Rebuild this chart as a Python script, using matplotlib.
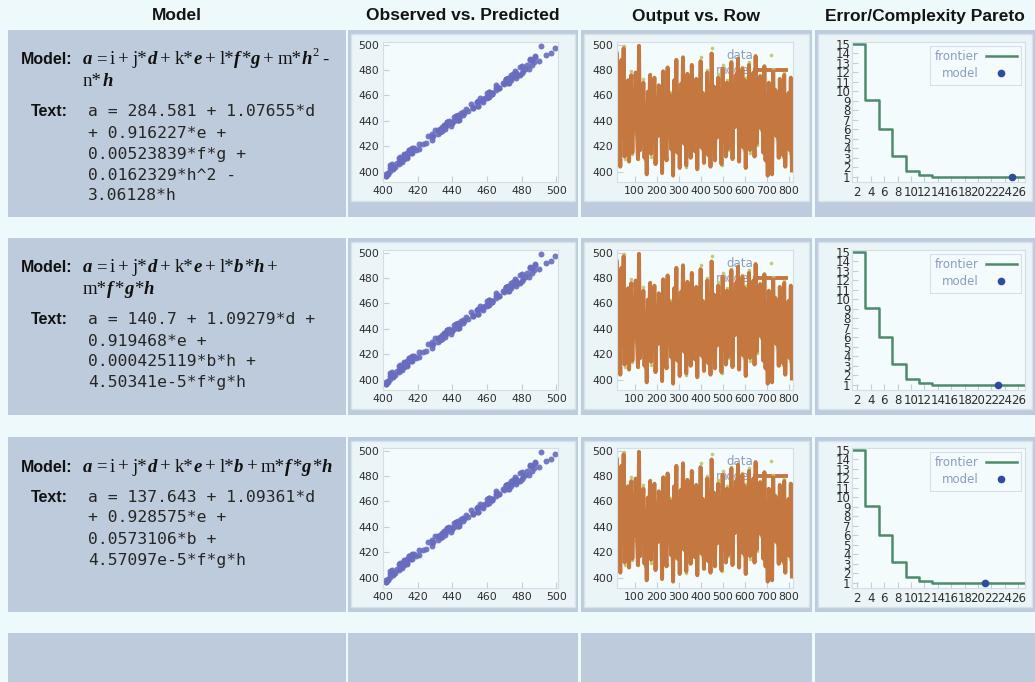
import matplotlib
matplotlib.use('Agg')
import matplotlib.pyplot as plt
from matplotlib.patches import Rectangle

# column headers
headers = ['Model', 'Observed vs. Predicted', 'Output vs. Row', 'Error/Complexity Pareto']

# symbolic model of each row, split into display lines of (text, style) pieces
model_lines = [
    [[('a', 'bi'), ('=', 'r'), ('i', 'r'), ('+', 'r'), ('j*', 'r'), ('d', 'bi'), ('+', 'r'),
      ('k*', 'r'), ('e', 'bi'), ('+', 'r'), ('l*', 'r'), ('f', 'bi'), ('*', 'r'), ('g', 'bi'),
      ('+', 'r'), ('m*', 'r'), ('h', 'bi'), ('2', 'sup'), ('-', 'r')],
     [('n*', 'r'), ('h', 'bi')]],
    [[('a', 'bi'), ('=', 'r'), ('i', 'r'), ('+', 'r'), ('j*', 'r'), ('d', 'bi'), ('+', 'r'),
      ('k*', 'r'), ('e', 'bi'), ('+', 'r'), ('l*', 'r'), ('b', 'bi'), ('*', 'r'), ('h', 'bi'),
      ('+', 'r')],
     [('m*', 'r'), ('f', 'bi'), ('*', 'r'), ('g', 'bi'), ('*', 'r'), ('h', 'bi')]],
    [[('a', 'bi'), ('=', 'r'), ('i', 'r'), ('+', 'r'), ('j*', 'r'), ('d', 'bi'), ('+', 'r'),
      ('k*', 'r'), ('e', 'bi'), ('+', 'r'), ('l*', 'r'), ('b', 'bi'), ('+', 'r'), ('m*', 'r'),
      ('f', 'bi'), ('*', 'r'), ('g', 'bi'), ('*', 'r'), ('h', 'bi')]],
]

text_lines = [
    ['a = 284.581 + 1.07655*d', '+ 0.916227*e +', '0.00523839*f*g +', '0.0162329*h^2 -', '3.06128*h'],
    ['a = 140.7 + 1.09279*d +', '0.919468*e +', '0.000425119*b*h +', '4.50341e-5*f*g*h'],
    ['a = 137.643 + 1.09361*d', '+ 0.928575*e +', '0.0573106*b +', '4.57097e-5*f*g*h'],
]

# model output (predicted) and data (observed), in row order
predicted = [
    492, 418, 455, 404, 488, 437, 497, 412, 466, 441,
    472, 408, 449, 476, 415, 462, 433, 478, 436, 410,
    499, 417, 458, 439, 470, 411, 446, 398, 463, 432,
    476, 414, 452, 443, 474, 406, 444, 428, 468, 438,
    457, 399, 479, 423, 439, 409, 482, 435, 461, 418,
    450, 397, 472, 441, 488, 415, 455, 403, 469, 437,
    490, 422, 448, 405, 477, 445, 466, 411, 484, 434,
    459, 416, 473, 402, 451, 440, 487, 419, 462, 407,
    445, 430, 478, 413, 456, 404, 493, 442, 467, 409,
    453, 427, 474, 436, 441, 406, 481, 433, 458, 412,
    470, 418, 447, 425, 486, 410, 463, 435, 476, 443,
    489, 408, 455, 438, 481, 419, 472, 403, 466, 431,
    484, 417, 459, 444, 478, 412, 491, 422, 452, 439,
    475, 434, 461, 415, 483, 409, 446, 397, 470, 442,
    456, 398, 479, 437, 464, 428, 450, 411, 473, 440,
    458, 413, 476, 404, 444, 430, 462, 417, 474, 401,
]
observed = [
    494, 417, 458, 406, 486, 437, 499, 410, 467, 443,
    471, 411, 448, 479, 414, 463, 430, 477, 439, 410,
    491, 419, 456, 440, 473, 409, 447, 403, 461, 434,
    477, 412, 455, 441, 474, 409, 442, 429, 465, 439,
    458, 403, 476, 425, 437, 410, 479, 434, 463, 421,
    452, 402, 471, 444, 485, 416, 454, 406, 470, 436,
    488, 423, 449, 404, 475, 443, 467, 414, 483, 436,
    461, 416, 471, 406, 452, 438, 490, 418, 460, 408,
    446, 428, 480, 414, 455, 407, 497, 444, 466, 411,
    451, 428, 477, 435, 443, 405, 484, 432, 459, 414,
    472, 417, 446, 428, 487, 412, 461, 436, 474, 444,
    485, 410, 454, 440, 482, 417, 474, 404, 465, 433,
    486, 415, 460, 442, 476, 413, 488, 421, 455, 437,
    476, 433, 463, 417, 480, 411, 445, 402, 469, 443,
    457, 402, 481, 435, 465, 426, 452, 412, 471, 441,
    460, 412, 478, 405, 443, 432, 463, 415, 472, 404,
]
rows = list(range(20, 20 + 5 * len(predicted), 5))

# pareto frontier (complexity vs error) and the chosen model per row
frontier_x = [1.2, 3.2, 5.2, 7.2, 9.2, 11.2, 13.2, 27.0]
frontier_y = [15.0, 9.1, 6.0, 3.2, 1.6, 1.2, 1.0, 1.0]
model_x = [25, 23, 21]
model_y = [1.0, 1.0, 1.0]

W, H = 1035, 682
PANEL = '#bdcbdc'
CARD = '#ebf5f8'
AXBG = '#f3fbfd'

fig = plt.figure(figsize=(W / 100, H / 100), dpi=100)
fig.patch.set_facecolor('#eef9fb')
bg = fig.add_axes([0, 0, 1, 1])
bg.set_xlim(0, W)
bg.set_ylim(H, 0)
bg.axis('off')

col_x = [(8, 346), (348, 578), (581, 812), (815, 1035)]
card_x = [None, (351, 575), (584, 809), (818, 1032)]
ax_x = [None, (383, 558), (617, 793), (852, 1025)]
panel_y = [(30, 217), (238, 415), (437, 612), (633, 700)]
ax_top = [42, 250, 448]
AX_H = 140

for x0, x1 in col_x:
    for y0, y1 in panel_y:
        bg.add_patch(Rectangle((x0, y0), x1 - x0, y1 - y0, facecolor=PANEL, edgecolor='none'))

for (x0, x1), title in zip(col_x, headers):
    bg.text((x0 + x1) / 2, 16, title, ha='center', va='center', fontsize=12.5,
            fontweight='bold', family='Liberation Sans', color='#141414')

styles = {
    'bi': dict(fontweight='bold', fontstyle='italic', fontsize=13.5),
    'r': dict(fontweight='normal', fontstyle='normal', fontsize=13.5),
    'sup': dict(fontweight='normal', fontstyle='normal', fontsize=9),
}
ops = ('=', '+', '-')
SUP_RAISE = 6.5


def draw_pieces(x, y, pieces):
    first_text, first_style = pieces[0]
    prev = bg.text(x, y, first_text, ha='left', va='center', family='Liberation Serif',
                   color='#111111', **styles[first_style])
    prev_text, prev_style = first_text, first_style
    for txt, st in pieces[1:]:
        gap = 2.4 if (txt in ops or prev_text in ops) else 0.3
        dy = 0
        if st == 'sup':
            dy = SUP_RAISE
        elif prev_style == 'sup':
            dy = -SUP_RAISE
        prev = bg.annotate(txt, xy=(1, 0), xycoords=prev, xytext=(gap, dy),
                           textcoords='offset points', ha='left', va='bottom',
                           family='Liberation Serif', color='#111111', **styles[st])
        prev_text, prev_style = txt, st


model_y0 = [60, 268, 467]
for r in range(3):
    y = model_y0[r]
    bg.text(73, y, 'Model:', ha='right', va='center', fontsize=11.5, fontweight='bold',
            family='Liberation Sans', color='#111111')
    for i, line in enumerate(model_lines[r]):
        draw_pieces(83, y + 22 * i, line)
    ty = y + 22 * len(model_lines[r]) + 8
    bg.text(68, ty, 'Text:', ha='right', va='center', fontsize=11.5, fontweight='bold',
            family='Liberation Sans', color='#111111')
    for i, line in enumerate(text_lines[r]):
        bg.text(88, ty + 21 * i, line, ha='left', va='center', fontsize=11.8,
                family='DejaVu Sans Mono', color='#262626')


def make_axes(col, r):
    top = ax_top[r]
    cx0, cx1 = card_x[col]
    bg.add_patch(Rectangle((cx0, panel_y[r][0] + 4), cx1 - cx0, top + AX_H + 19 - panel_y[r][0] - 4,
                           facecolor=CARD, edgecolor='#d6e2ea', lw=1))
    x0, x1 = ax_x[col]
    ax = fig.add_axes([x0 / W, 1 - (top + AX_H) / H, (x1 - x0) / W, AX_H / H])
    ax.set_facecolor(AXBG)
    for s in ax.spines.values():
        s.set_color('#d3dee6')
        s.set_linewidth(0.8)
    ax.tick_params(labelsize=7.8, labelcolor='#2c2c2c', color='#c3ced7', direction='in',
                   length=4, width=0.8, pad=3)
    return ax


for r in range(3):
    # observed vs predicted
    ax = make_axes(1, r)
    ax.plot(observed, predicted, 'o', ms=4.3, color='#676cbf', mec='none', alpha=0.9)
    ax.set_xlim(400, 501)
    ax.set_ylim(392, 502)
    ax.set_xticks([400, 420, 440, 460, 480, 500])
    ax.set_yticks([400, 420, 440, 460, 480, 500])

    # output vs row
    ax = make_axes(2, r)
    ax.plot(rows, observed, 'o', ms=2.6, color='#c6ca6c', mec='none', label='data')
    ax.plot(rows, predicted, '-', lw=2.8, color='#c4773f', label='model')
    ax.set_xlim(20, 820)
    ax.set_ylim(392, 502)
    ax.set_xticks([100, 200, 300, 400, 500, 600, 700, 800])
    ax.set_yticks([400, 420, 440, 460, 480, 500])
    leg = ax.legend(loc='upper right', frameon=False, markerfirst=False, fontsize=8.5,
                    labelcolor='#8b9cbf', handlelength=2.6, borderaxespad=0.2,
                    labelspacing=0.2, handletextpad=0.2)
    leg.set_zorder(1)

    # error/complexity pareto
    ax = make_axes(3, r)
    ax.plot(frontier_x, frontier_y, drawstyle='steps-post', lw=1.8, color='#4e8a6c',
            label='frontier')
    ax.plot([model_x[r]], [model_y[r]], 'o', ms=4.5, color='#2d4c9c', ls='none', label='model')
    ax.set_xlim(1.2, 27)
    ax.set_ylim(0.47, 15.2)
    ax.set_xticks(list(range(2, 27, 2)))
    ax.set_yticks(list(range(1, 16)))
    ax.tick_params(axis='x', labelsize=8.5)
    ax.tick_params(axis='y', labelsize=8.5, pad=1)
    leg = ax.legend(loc='upper right', markerfirst=False, fontsize=8.5, labelcolor='#8b9cbf',
                    handlelength=2.6, borderaxespad=0.3, labelspacing=0.3, handletextpad=0.6,
                    fancybox=False, edgecolor='#d6e0e8', facecolor=AXBG, framealpha=1)
    leg.get_frame().set_linewidth(0.8)

fig.savefig('out.png', dpi=100, facecolor=fig.get_facecolor())
